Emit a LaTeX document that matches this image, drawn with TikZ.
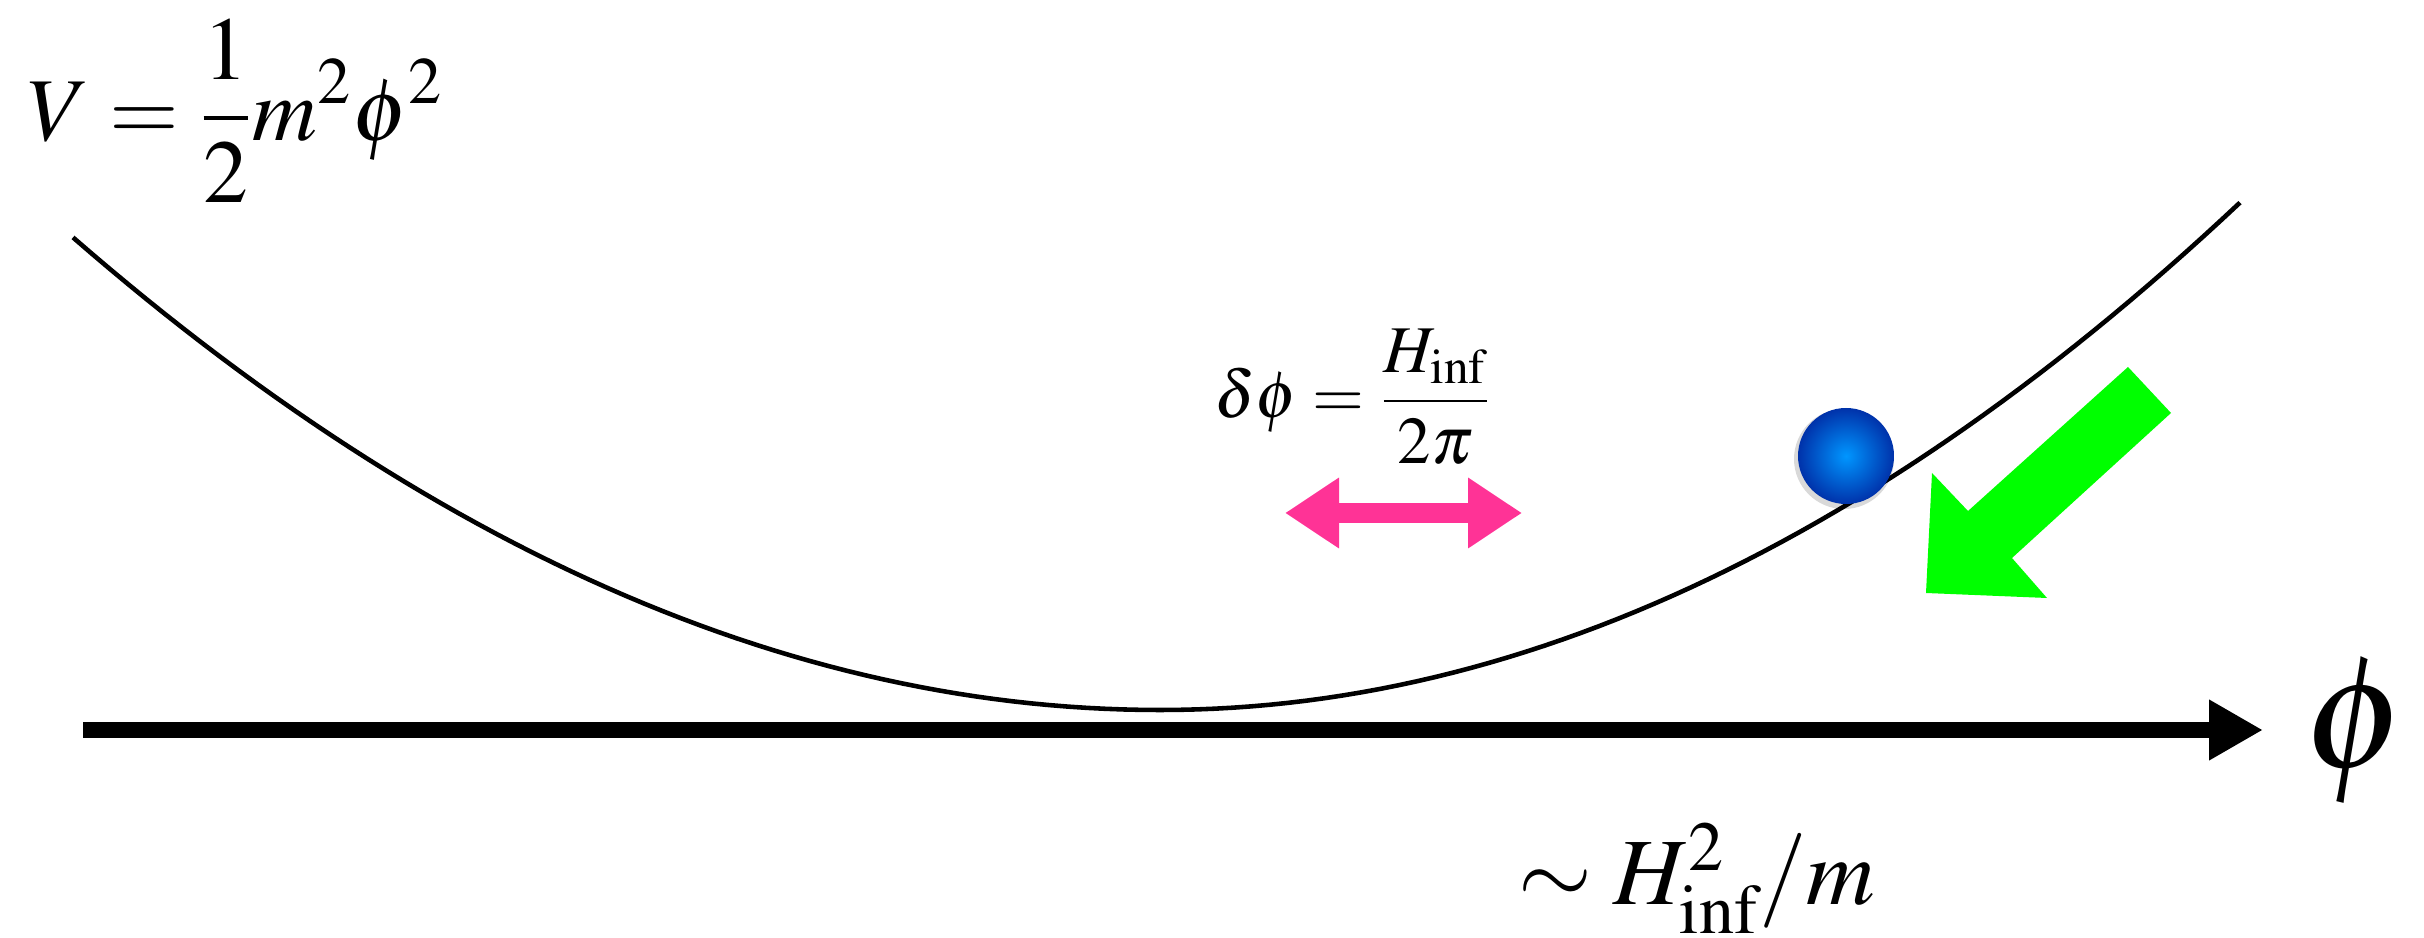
\documentclass[tikz,border=0pt]{standalone}
\usepackage{mathptmx}
\usetikzlibrary{arrows.meta,positioning}

\definecolor{kick}{RGB}{255,51,150}
\definecolor{roll}{RGB}{0,255,0}
\definecolor{ballin}{RGB}{0,150,255}
\definecolor{ballout}{RGB}{0,50,170}

\begin{document}
\begin{tikzpicture}[
  pot/.style={line width=1.3pt},
  axis/.style={line width=4.5pt, -{Triangle[length=5.4mm,width=5.7mm]}},
  kickarrow/.style={line width=5.7pt, kick,
    {Triangle[length=5.4mm,width=6.7mm]}-{Triangle[length=5.4mm,width=6.7mm]}},
  ball/.style={circle, inner sep=0pt, minimum size=0.96cm,
    shading=radial, inner color=ballin, outer color=ballout},
  lab/.style={inner sep=0pt}
]
\useasboundingbox (0,0) rectangle (24.24,9.38);

% potential
\draw[pot, variable=\x]
  plot[domain=0.73:11.6, samples=60] (\x, {2.28+0.040*(\x-11.6)^2})
  -- plot[domain=11.6:22.4, samples=60] (\x, {2.28+0.0435*(\x-11.6)^2});

% field axis
\coordinate (ax0) at (0.83,2.08);
\coordinate (ax1) at (22.63,2.08);
\draw[axis] (ax0) -- (ax1);
\node[lab, font=\fontsize{46}{50}\selectfont] (philab) at (23.56,2.07) {$\phi$};

\node[lab, font=\fontsize{25.5}{30}\selectfont] (Vlab) at (2.36,8.27)
  {$\displaystyle V=\frac{1}{2}m^2\phi^2$};

% quantum kicks
\node[lab, font=\fontsize{19}{23}\selectfont] (dlab) at (13.53,5.41)
  {$\displaystyle \delta\phi=\frac{H_{\mathrm{inf}}}{2\pi}$};
\coordinate (kl) at (12.85,4.25);
\coordinate (kr) at (15.22,4.25);
\draw[kickarrow] (kl) -- (kr);

% ball and classical roll
\fill[black, opacity=0.15] (18.44,4.79) circle (0.5);
\node[ball] (ball) at (18.46,4.82) {};
\fill[roll] (21.28,5.71) -- (21.71,5.25) -- (20.12,3.80) -- (20.47,3.40)
  -- (19.26,3.45) -- (19.32,4.65) -- (19.68,4.27) -- cycle;

\node[lab, font=\fontsize{27}{31}\selectfont, anchor=south] (Hlab) at (16.97,0.04)
  {$\sim H_{\mathrm{inf}}^2/m$};

\end{tikzpicture}
\end{document}
